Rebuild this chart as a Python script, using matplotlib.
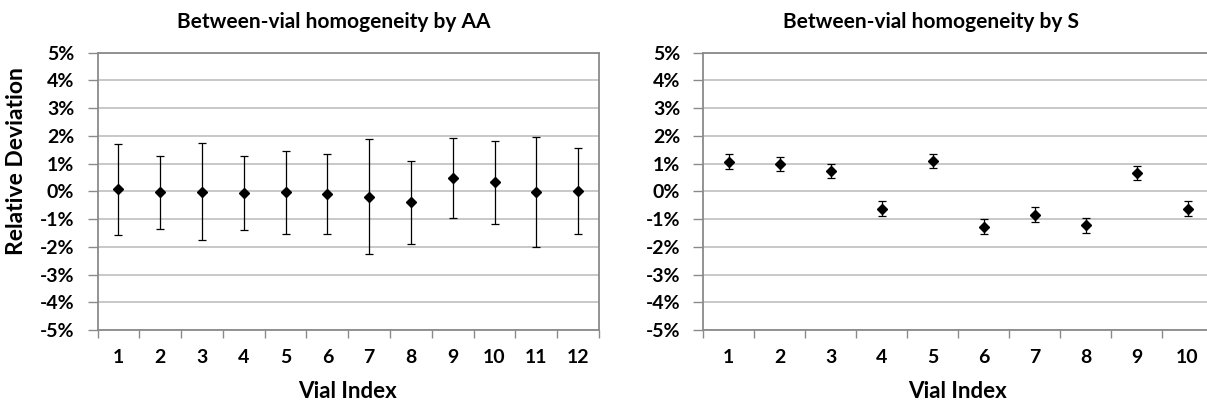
import numpy as np
import matplotlib
matplotlib.use("Agg")
import matplotlib.pyplot as plt
from matplotlib.ticker import FixedLocator, FuncFormatter

plt.rcParams["font.family"] = ["Lato", "DejaVu Sans"]
plt.rcParams["font.weight"] = "bold"

# relative deviation (%) per vial, with error bar half-widths (%)
aa_vials = ["1", "2", "3", "4", "5", "6", "7", "8", "9", "10", "11", "12"]
aa_mean = [0.08, -0.03, -0.01, -0.07, -0.04, -0.09, -0.19, -0.40, 0.47, 0.32, -0.03, 0.01]
aa_err = [1.64, 1.31, 1.75, 1.34, 1.50, 1.44, 2.08, 1.50, 1.44, 1.50, 1.98, 1.56]

s_vials = ["1", "2", "3", "4", "5", "6", "7", "8", "9", "10"]
s_mean = [1.07, 0.98, 0.73, -0.62, 1.10, -1.27, -0.84, -1.23, 0.67, -0.62]
s_err = [0.27, 0.26, 0.26, 0.26, 0.26, 0.26, 0.26, 0.26, 0.26, 0.26]

y_ticks = [-5, -4, -3, -2, -1, 0, 1, 2, 3, 4, 5]

W, H = 1207, 403
fig = plt.figure(figsize=(W / 100, H / 100), dpi=100)

GRID = "#c4c4c4"
AXIS = "#8a8a8a"


def px_axes(x0, x1, y0, y1):
    return fig.add_axes([x0 / W, 1 - y1 / H, (x1 - x0) / W, (y1 - y0) / H])


def draw_panel(ax, labels, mean, err):
    n = len(labels)
    x = np.arange(1, n + 1)
    ax.errorbar(x, mean, yerr=err, fmt="D", color="black", ms=5.5,
                elinewidth=0.9, capsize=3, capthick=0.9, zorder=3)
    ax.set_xlim(0.5, n + 0.5)
    ax.set_ylim(-5, 5)
    ax.yaxis.set_major_locator(FixedLocator(y_ticks))
    ax.yaxis.set_major_formatter(FuncFormatter(lambda v, _: f"{v:.0f}%"))
    ax.set_xticks(x)
    ax.set_xticklabels(labels)
    ax.set_xticks(np.arange(0.5, n + 1), minor=True)
    ax.grid(axis="y", color=GRID, lw=1.3, zorder=0)
    ax.set_axisbelow(True)
    for sp in ax.spines.values():
        sp.set_color(AXIS)
        sp.set_linewidth(1.3)
    ax.tick_params(axis="x", which="major", length=0, pad=14, labelsize=14)
    ax.tick_params(axis="x", which="minor", length=6, color=AXIS, width=1)
    ax.tick_params(axis="y", length=7, color=AXIS, width=1, pad=9.7, labelsize=14)


ax1 = px_axes(97.5, 599, 52.7, 330)
draw_panel(ax1, aa_vials, aa_mean, aa_err)
ax2 = px_axes(703.3, 1213, 52.7, 330)
draw_panel(ax2, s_vials, s_mean, s_err)

fig.text(334 / W, 1 - 22 / H, "Between-vial homogeneity by AA",
         ha="center", va="center", fontsize=15, fontweight="bold")
fig.text(931 / W, 1 - 22 / H, "Between-vial homogeneity by S",
         ha="center", va="center", fontsize=15, fontweight="bold")
fig.text(17 / W, 1 - 161.5 / H, "Relative Deviation", rotation=90,
         ha="center", va="center", fontsize=16.5, fontweight="bold")
fig.text(348 / W, 1 - 392 / H, "Vial Index",
         ha="center", va="center", fontsize=16, fontweight="bold")
fig.text(958 / W, 1 - 392 / H, "Vial Index",
         ha="center", va="center", fontsize=16, fontweight="bold")

fig.savefig("out.png", dpi=100)
